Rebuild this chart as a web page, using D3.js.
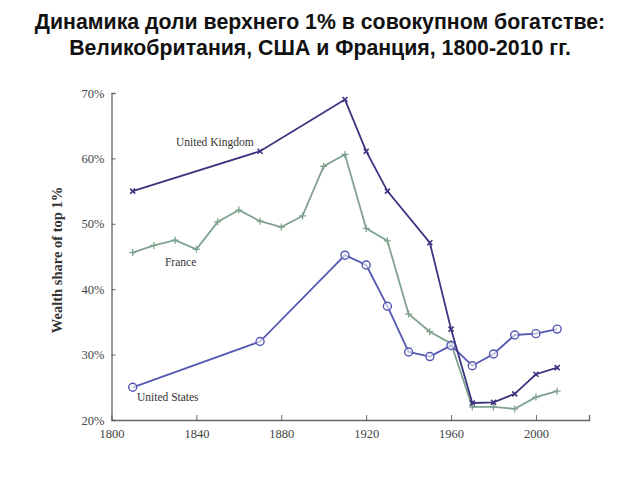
<!DOCTYPE html>
<html><head><meta charset="utf-8">
<script src="https://cdn.jsdelivr.net/npm/d3@7"></script>
<style>body{margin:0;background:#fff}</style>
</head><body>
<svg id="c" width="640" height="480"></svg>
<script>
const titleLines = ["Динамика доли верхнего 1% в совокупном богатстве:", "Великобритания, США и Франция, 1800-2010 гг."];
const yTicks = [20, 30, 40, 50, 60, 70];
const xTicks = [1800, 1840, 1880, 1920, 1960, 2000];
const ukYears = [1810, 1870, 1910, 1920, 1930, 1950, 1960, 1970, 1980, 1990, 2000, 2010];
const ukValues = [55.0, 61.1, 69.0, 61.1, 55.0, 47.1, 33.9, 22.6, 22.7, 24.0, 27.0, 28.0];
const frYears = [1810, 1820, 1830, 1840, 1850, 1860, 1870, 1880, 1890, 1900, 1910, 1920, 1930, 1940, 1950, 1960, 1970, 1980, 1990, 2000, 2010];
const frValues = [45.6, 46.7, 47.5, 46.1, 50.3, 52.1, 50.4, 49.5, 51.2, 58.8, 60.6, 49.3, 47.4, 36.2, 33.5, 31.7, 22.0, 22.0, 21.7, 23.5, 24.4];
const usYears = [1810, 1870, 1910, 1920, 1930, 1940, 1950, 1960, 1970, 1980, 1990, 2000, 2010];
const usValues = [25.0, 32.0, 45.2, 43.7, 37.4, 30.4, 29.7, 31.4, 28.3, 30.1, 33.0, 33.2, 33.9];
const seriesNames = ["United Kingdom", "France", "United States"];

const svg = d3.select("#c");
const x = d3.scaleLinear().domain([1800, 2025]).range([111.5, 589]);
const y = d3.scaleLinear().domain([20, 70]).range([420, 93]);

svg.append("g").selectAll("text").data(titleLines).join("text")
  .attr("x", 320).attr("y", (d, i) => 29 + i * 26)
  .attr("text-anchor", "middle")
  .attr("font-family", "Liberation Sans, Arial, sans-serif")
  .attr("font-weight", "bold").attr("font-size", 21.3).attr("fill", "#111")
  .text(d => d);

const axCol = "#666";
const xAxis = d3.axisBottom(x).tickValues(xTicks).tickSize(-5).tickPadding(9).tickFormat(d3.format("d"));
const gx = svg.append("g").attr("transform", "translate(0,420)").call(xAxis);
const yAxis = d3.axisLeft(y).tickValues(yTicks).tickSize(-4).tickPadding(7).tickFormat(d => d + "%");
const gy = svg.append("g").attr("transform", "translate(111.5,0)").call(yAxis);
[gx, gy].forEach(g => {
  g.select(".domain").attr("stroke", axCol).attr("stroke-width", 1.3);
  g.selectAll(".tick line").attr("stroke", axCol);
  g.selectAll(".tick text").attr("font-family", "Liberation Serif, DejaVu Serif, serif")
    .attr("font-size", 12.5).attr("fill", "#444");
});
gx.selectAll(".tick").filter(d => d === 1800).select("line").remove();
gy.selectAll(".tick").filter(d => d === 20).select("line").remove();

svg.append("text").attr("transform", "translate(62,260) rotate(-90)")
  .attr("text-anchor", "middle")
  .attr("font-family", "Liberation Serif, DejaVu Serif, serif")
  .attr("font-weight", "bold").attr("font-size", 14.5).attr("fill", "#333")
  .text("Wealth share of top 1%");

const line = d3.line().x(d => x(d[0])).y(d => y(d[1]));
const fr = frYears.map((d, i) => [d, frValues[i]]);
const uk = ukYears.map((d, i) => [d, ukValues[i]]);
const us = usYears.map((d, i) => [d, usValues[i]]);
const cFr = "#7fa28e", cUk = "#3b3380", cUs = "#5458b3";

function drawLine(data, color, w) {
  svg.append("path").datum(data).attr("d", line)
    .attr("fill", "none").attr("stroke", color).attr("stroke-width", w);
}
drawLine(fr, cFr, 1.8);
svg.append("g").selectAll("path").data(fr).join("path")
  .attr("transform", d => `translate(${x(d[0])},${y(d[1])})`)
  .attr("d", "M-3.5,0H3.5M0,-3.5V3.5").attr("stroke", cFr).attr("stroke-width", 1.3);

drawLine(us, cUs, 1.8);
svg.append("g").selectAll("circle").data(us).join("circle")
  .attr("cx", d => x(d[0])).attr("cy", d => y(d[1])).attr("r", 4)
  .attr("fill", "#fff").attr("fill-opacity", 0.6).attr("stroke", cUs).attr("stroke-width", 1.4);

drawLine(uk, cUk, 1.8);
svg.append("g").selectAll("path").data(uk).join("path")
  .attr("transform", d => `translate(${x(d[0])},${y(d[1])})`)
  .attr("d", "M-2.5,-2.5L2.5,2.5M-2.5,2.5L2.5,-2.5").attr("stroke", cUk).attr("stroke-width", 1.6);

const labels = [
  {name: seriesNames[0], year: 1830.4, val: 61.9},
  {name: seriesNames[1], year: 1825.2, val: 43.5},
  {name: seriesNames[2], year: 1812, val: 22.9}
];
svg.append("g").selectAll("text").data(labels).join("text")
  .attr("x", d => x(d.year)).attr("y", d => y(d.val))
  .attr("font-family", "Liberation Serif, DejaVu Serif, serif")
  .attr("font-size", 11.5).attr("fill", "#333")
  .text(d => d.name);
</script>
</body></html>
